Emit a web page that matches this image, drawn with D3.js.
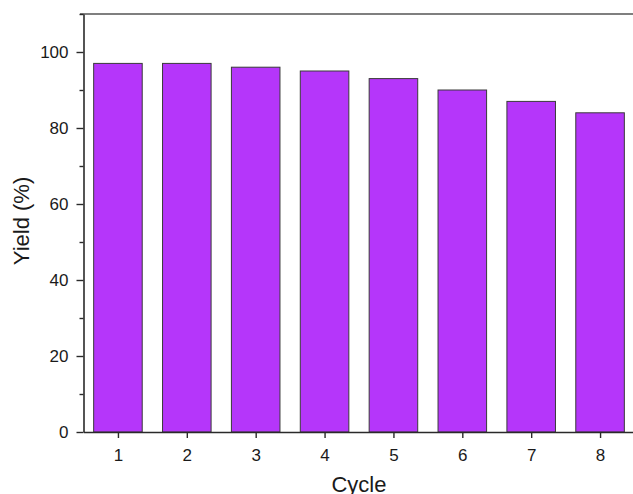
<!DOCTYPE html>
<html>
<head>
<meta charset="utf-8">
<script src="https://cdn.jsdelivr.net/npm/d3@7/dist/d3.min.js"></script>
<style>
  html, body { margin: 0; padding: 0; background: #fff; overflow: hidden; }
  svg { display: block; font-family: "Liberation Sans", Arial, sans-serif; }
  .tick text { font-size: 17px; font-family: "Liberation Sans", Arial, sans-serif; fill: #1a1a1a; }
</style>
</head>
<body>
<svg id="chart" width="633" height="494"></svg>
<script>
// Yield per reuse cycle
const cycles = [1, 2, 3, 4, 5, 6, 7, 8];
const yieldValues = [97, 97, 96, 95, 93, 90, 87, 84];
const yMajorTicks = [0, 20, 40, 60, 80, 100];
const yMinorTicks = [10, 30, 50, 70, 90, 110];

const svg = d3.select("#chart");
const plotLeft = 83.5, plotRight = 634.5, plotTop = 14, plotBottom = 432;

const x = d3.scaleLinear().domain([0.5, 8.5]).range([plotLeft, plotRight]);
const y = d3.scaleLinear().domain([0, 110]).range([plotBottom, plotTop]);
const step = x(2) - x(1);
const barW = step * 0.705;

// bars
svg.append("g").selectAll("rect")
  .data(cycles)
  .join("rect")
  .attr("x", (d) => x(d) - barW / 2)
  .attr("width", barW)
  .attr("y", (d, i) => y(yieldValues[i]))
  .attr("height", (d, i) => y(0) - y(yieldValues[i]))
  .attr("fill", "#b536fa")
  .attr("stroke", "#3a3a3a")
  .attr("stroke-width", 1);

const axisColor = "#2a2a2a";

// top frame line
svg.append("line")
  .attr("x1", plotLeft - 3.5).attr("x2", 633)
  .attr("y1", plotTop).attr("y2", plotTop)
  .attr("stroke", "#555").attr("stroke-width", 1.6);

// y axis
svg.append("g")
  .attr("transform", `translate(${plotLeft},0)`)
  .call(d3.axisLeft(y).tickValues(yMajorTicks).tickSize(7).tickPadding(8).tickSizeOuter(0));
svg.append("g")
  .attr("transform", `translate(${plotLeft},0)`)
  .call(d3.axisLeft(y).tickValues(yMinorTicks).tickSize(4).tickFormat("").tickSizeOuter(0))
  .call((g) => g.select(".domain").remove());

// x axis
svg.append("g")
  .attr("transform", `translate(0,${plotBottom})`)
  .call(d3.axisBottom(x).tickValues(cycles).tickFormat(d3.format("d")).tickSize(6).tickPadding(11).tickSizeOuter(0));

svg.selectAll(".domain").attr("stroke", axisColor).attr("stroke-width", 1.6);
svg.selectAll(".tick line").attr("stroke", axisColor).attr("stroke-width", 1.4);
svg.selectAll(".tick text").style("font-size", "17px");

// axis titles
svg.append("text")
  .attr("transform", `translate(29,${(plotTop + plotBottom) / 2 - 2}) rotate(-90)`)
  .attr("text-anchor", "middle")
  .style("font-size", "22px")
  .attr("fill", "#1a1a1a")
  .text("Yield (%)");

svg.append("text")
  .attr("x", (plotLeft + plotRight) / 2)
  .attr("y", 492)
  .attr("text-anchor", "middle")
  .style("font-size", "22px")
  .attr("fill", "#1a1a1a")
  .text("Cycle");
</script>
</body>
</html>
